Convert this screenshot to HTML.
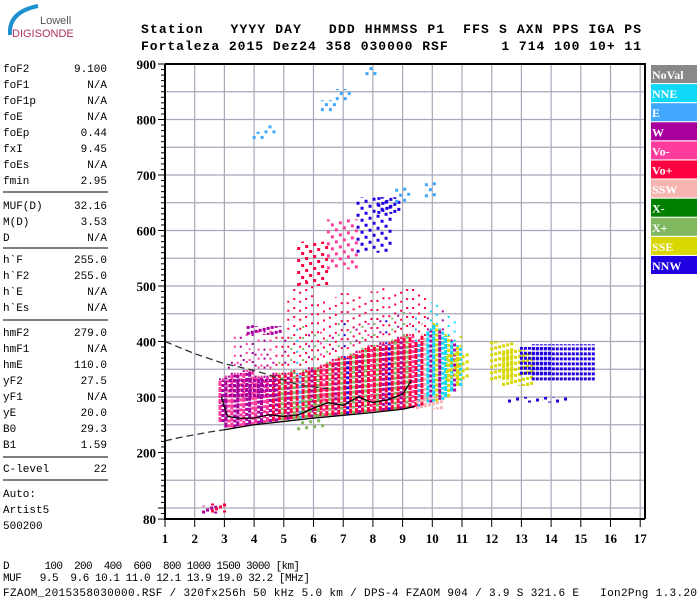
<!DOCTYPE html>
<html><head><meta charset="utf-8"><style>
html,body{margin:0;padding:0;background:#fff;width:700px;height:600px;overflow:hidden}
svg{display:block}
.hd{font-family:"Liberation Mono",monospace;font-weight:bold;font-size:13px}
.ax{font-family:"Liberation Serif",serif;font-weight:bold;font-size:13px}
.lp{font-family:"Liberation Mono",monospace;font-size:11px}
.lg{font-family:"Liberation Serif",serif;font-weight:bold;font-size:12px;fill:#fff}
</style></head><body>
<svg id="c" width="700" height="600" viewBox="0 0 700 600" xmlns="http://www.w3.org/2000/svg">
<g>
<path d="M10 35 Q8 12 38 6" stroke="#1e90d0" stroke-width="4" fill="none"/>
<text x="40" y="24" font-family="Liberation Sans,sans-serif" font-size="11" fill="#555">Lowell</text>
<text x="12" y="37" font-family="Liberation Sans,sans-serif" font-size="11" fill="#b03060">DIGISONDE</text>
</g>
<text class="hd" x="141" y="33" textLength="500" xml:space="preserve">Station   YYYY DAY   DDD HHMMSS P1  FFS S AXN PPS IGA PS</text>
<text class="hd" x="141" y="50" textLength="500" xml:space="preserve">Fortaleza 2015 Dez24 358 030000 RSF      1 714 100 10+ 11</text>
<g id="left"></g>
<g id="grid"></g>
<g id="marks"></g>
<g id="axes"></g>
<g id="legend"></g>
<text class="lp" x="3" y="569" textLength="297" xml:space="preserve">D      100  200  400  600  800 1000 1500 3000 [km]</text>
<text class="lp" x="3" y="581" textLength="307" xml:space="preserve">MUF   9.5  9.6 10.1 11.0 12.1 13.9 19.0 32.2 [MHz]</text>
<text class="lp" x="3" y="596" textLength="694" xml:space="preserve">FZAOM_2015358030000.RSF / 320fx256h 50 kHz 5.0 km / DPS-4 FZAOM 904 / 3.9 S 321.6 E   Ion2Png 1.3.20</text>
</svg>
<script>
const NS="http://www.w3.org/2000/svg";
const legendNames=["NoVal","NNE","E","W","Vo-","Vo+","SSW","X-","X+","SSE","NNW"];
const legendColors=["#888888","#10d8f8","#40a8ff","#a8009c","#ff3c9c","#ff0040","#f8b4b0","#008000","#80b860","#d8d800","#2000e0"];
const xTicks=[1,2,3,4,5,6,7,8,9,10,11,12,13,14,15,16,17];
const yTicks=[80,200,300,400,500,600,700,800,900];
const paramNames=["foF2","foF1","foF1p","foE","foEp","fxI","foEs","fmin","MUF(D)","M(D)","D","h`F","h`F2","h`E","h`Es","hmF2","hmF1","hmE","yF2","yF1","yE","B0","B1","C-level","Auto:","Artist5","500200"];
const paramValues=["9.100","N/A","N/A","N/A","0.44","9.45","N/A","2.95","32.16","3.53","N/A","255.0","255.0","N/A","N/A","279.0","N/A","110.0","27.5","N/A","20.0","29.3","1.59","22","","",""];
// main F-layer echo band
const blobFreq=[2.8,3.0,3.2,3.4,3.6,3.8,4.0,4.2,4.4,4.6,4.8,5.0,5.2,5.4,5.6,5.8,6.0,6.2,6.4,6.6,6.8,7.0,7.2,7.4,7.6,7.8,8.0,8.2,8.4,8.6,8.8,9.0,9.2,9.4,9.6,9.8,10.0,10.2,10.4,10.6,10.8];
const blobLow=[255,245,245,247,248,250,252,253,255,256,258,259,260,261,262,263,264,265,266,267,268,269,270,271,272,273,274,275,276,277,278,279,280,282,284,290,292,295,300,310,320];
const blobTop=[330,335,340,340,345,345,335,335,335,340,340,340,345,340,345,350,350,355,360,365,370,370,375,380,385,390,390,395,395,400,405,410,410,400,410,420,430,420,410,400,390];
const blobSparse=[340,360,420,420,425,430,425,430,430,420,420,480,500,510,520,500,480,480,470,480,500,500,480,490,480,490,490,500,490,490,500,500,495,490,480,470,470,460,450,440,420];
const blobMain=[4,3,4,3,4,3,4,3,4,5,5,5,5,5,5,5,5,5,5,5,5,5,5,5,5,5,5,5,5,5,5,5,5,5,5,1,1,3,1,1,9];
const blobAlt=[3,4,3,4,3,4,3,4,3,3,8,3,8,2,8,3,8,4,8,3,8,10,8,3,8,4,8,3,10,8,3,8,4,2,6,3,9,1,9,3,1];
// sparse clusters: f0,f1,h0,h1,color
const clF0=[3.8,4.0,4.4,6.3,6.8,7.8,5.5,6.5,7.5,8.2,8.8,12.0,12.4,13.0,13.4,12.6,10.5,2.3,2.6,9.5,3.2,5.5,9.8];
const clF1=[4.9,4.4,4.8,6.8,7.3,8.1,6.5,7.5,8.6,9.0,9.3,12.8,13.4,14.0,15.5,14.5,11.3,2.8,3.1,10.4,4.8,6.4,10.2];
const clH0=[412,765,775,815,835,880,500,530,560,630,650,330,320,340,330,290,330,90,92,278,300,240,660];
const clH1=[428,778,790,835,855,898,580,620,660,660,680,400,385,390,395,300,380,104,108,300,335,300,690];
const clC=[3,2,2,2,2,2,5,4,10,10,2,9,9,10,10,10,9,3,5,6,3,8,2];
const clGap=[3,7,7,7,7,7,9,9,9,4,8,3,3,2,2,9,4,4,4,3,2,8,8];
// echo traces
const traceF=[2.9,3.1,3.5,4.0,4.5,5.0,5.5,6.0,6.5,7.0,7.5,8.0,8.5,9.0,9.3];
const traceH=[300,265,262,262,268,265,268,280,290,285,300,290,295,305,330];
const upperF=[1,2,3,4,4.5,5,5.5,6,6.5];
const upperH=[400,378,360,348,340,330,322,318,315];
const lowerF=[1,1.5,2,2.5,3];
const lowerH=[221,227,232,237,241];
const boundF=[3,4,5,6,7,8,9,9.4];
const boundH=[241,250,256,262,267,272,278,283];

const X0=165,XW=29.7,Y0=64,YS=0.555;
const xs=f=>X0+(f-1)*XW;
const ys=h=>Y0+(900-h)*YS;
function mk(t,a,p){const e=document.createElementNS(NS,t);for(const k in a)e.setAttribute(k,a[k]);p.appendChild(e);return e;}

const left=document.getElementById('left');
const rowY=[68,84,100,116,132,148,164,180,205,221,237,259,275,291,307,332,348,364,380,396,412,428,444,468,493,509,525];
paramNames.forEach((n,i)=>{
 const t=mk('text',{x:3,y:rowY[i]+4,class:'lp'},left);t.textContent=n;
 
 
 if(paramValues[i]){const v=mk('text',{x:107,y:rowY[i]+4,class:'lp','text-anchor':'end'},left);v.textContent=paramValues[i];
 
 }
});
[192,248,320,457,480].forEach(y=>{const l=mk('line',{x1:3,x2:108,y1:y,y2:y,stroke:'#000'},left);
 
 });

const grid=document.getElementById('grid');
for(let f=2;f<=17;f++){const l=mk('line',{x1:xs(f),x2:xs(f),y1:Y0,y2:519,stroke:'#a8a8b8','stroke-width':1.2},grid);
 
 }
for(let h=100;h<900;h+=50){const l=mk('line',{x1:X0,x2:645,y1:ys(h),y2:ys(h),stroke:'#a8a8b8','stroke-width':1.2},grid);
 
 }

const marks=document.getElementById('marks');
blobFreq.forEach((f,i)=>{
 const x=xs(f);
 const a=mk('line',{x1:x+1.5,x2:x+1.5,y1:ys(blobLow[i]),y2:ys(blobTop[i]),stroke:legendColors[blobMain[i]],'stroke-width':3,'stroke-dasharray':'5 1'},marks);
 
 
 const b=mk('line',{x1:x+4.5,x2:x+4.5,y1:ys(blobLow[i]),y2:ys(blobTop[i]),stroke:legendColors[blobAlt[i]],'stroke-width':3,'stroke-dasharray':'3 2'},marks);
 
 
 const c=mk('line',{x1:x+4.5,x2:x+4.5,y1:ys(blobTop[i]),y2:ys(blobSparse[i]),stroke:legendColors[blobMain[i]],'stroke-width':2,'stroke-dasharray':'2 7'},marks);
 
 
 const d=mk('line',{x1:x+1.5,x2:x+1.5,y1:ys(blobTop[i]),y2:ys((blobTop[i]+blobSparse[i])/2),stroke:legendColors[blobAlt[i]],'stroke-width':2,'stroke-dasharray':'2 9'},marks);
 
 
});
clF0.forEach((f0,i)=>{
 const g=mk('g',{},marks);
 
 
 const gap=clGap[i];
 let k=0;
 for(let x=xs(f0);x<=xs(clF1[i]);x+=4){
  const l=mk('line',{x1:x,x2:x,y1:ys(clH0[i]),y2:ys(clH1[i]),stroke:legendColors[clC[i]],'stroke-width':3,'stroke-dasharray':'3 '+gap,'stroke-dashoffset':(k*5)%(gap+3)},g);
  
  
  k++;
 }
});
function poly(F,H,attrs,name){const p=mk('polyline',Object.assign({points:F.map((f,i)=>xs(f)+','+ys(H[i])).join(' '),fill:'none'},attrs),marks);
 
 }
poly(traceF,traceH,{stroke:'#000','stroke-width':1.3},'virtual-height-trace');
poly(upperF,upperH,{stroke:'#333','stroke-width':1.3,'stroke-dasharray':'7 4'},'upper-dashed-curve');
poly(lowerF,lowerH,{stroke:'#333','stroke-width':1.3,'stroke-dasharray':'7 4'},'lower-dashed-curve');
poly(boundF,boundH,{stroke:'#000','stroke-width':1.3},'lower-boundary-curve');

const axes=document.getElementById('axes');
const fr=mk('path',{d:`M${X0} ${Y0} H645 V519 M${X0} ${Y0} V519 H645`,stroke:'#000','stroke-width':2,fill:'none'},axes);


for(let h=80;h<=900;h+=10){const big=h%100===0||h===80;const l=mk('line',{x1:big?158:161,x2:X0,y1:ys(h),y2:ys(h),stroke:'#000'},axes);
 
 }
yTicks.forEach(h=>{const t=mk('text',{x:156,y:ys(h)+5,class:'ax','text-anchor':'end'},axes);t.textContent=h;
 
 });
xTicks.forEach(f=>{const l=mk('line',{x1:xs(f),x2:xs(f),y1:519,y2:527,stroke:'#000'},axes);
 
 
 const t=mk('text',{x:xs(f),y:543,class:'ax','text-anchor':'middle'},axes);t.textContent=f;
 
 });

const lg=document.getElementById('legend');
legendNames.forEach((n,i)=>{const y=65+i*19.1;
 const r=mk('rect',{x:651,y:y,width:46,height:18,fill:legendColors[i]},lg);
 
 
 const t=mk('text',{x:652,y:y+14,class:'lg'},lg);t.textContent=n;
 
 });
</script>
</body></html>
